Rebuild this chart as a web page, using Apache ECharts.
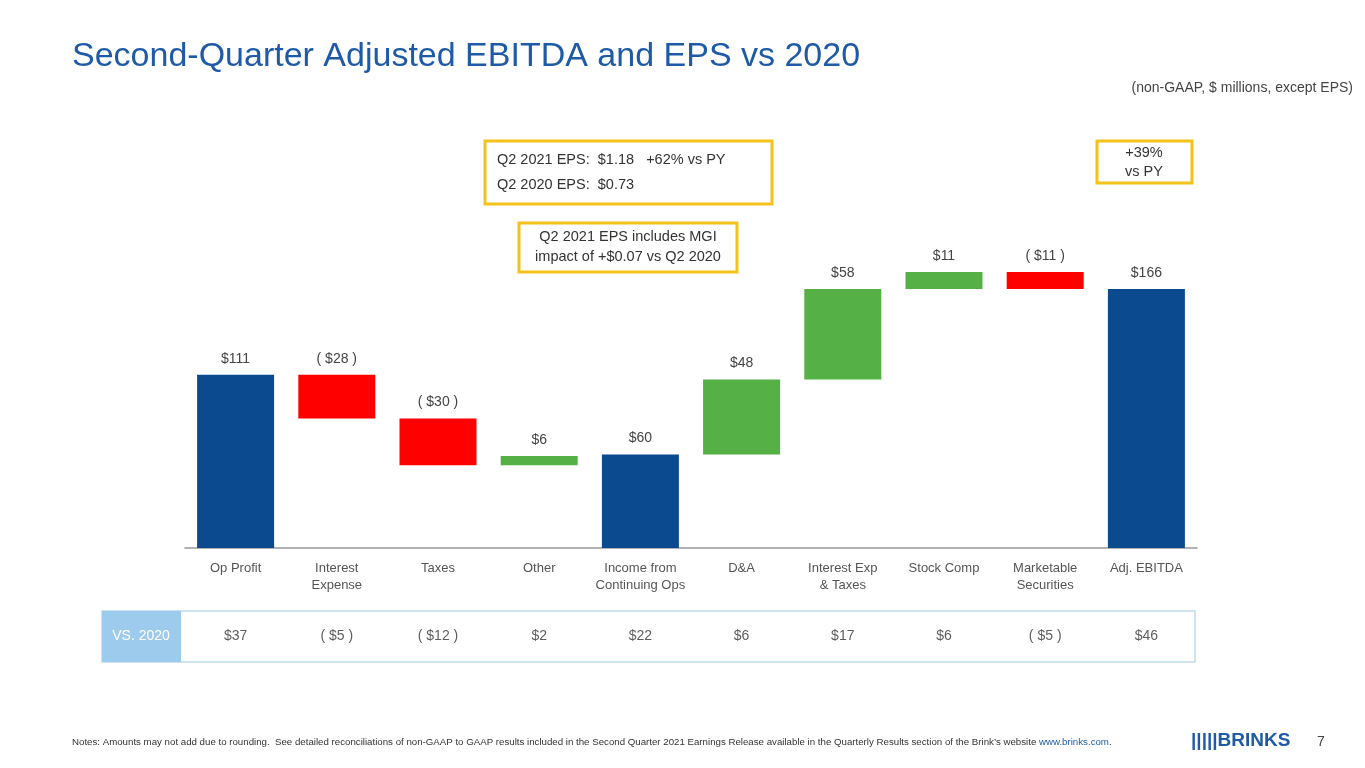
<!DOCTYPE html>
<html><head><meta charset="utf-8">
<script src="https://cdn.jsdelivr.net/npm/echarts@6/dist/echarts.min.js"></script>
<style>html,body{margin:0;padding:0;background:#fff}#c{width:1365px;height:768px}</style>
</head><body><div id="c"></div>
<script>
const categories = ['Op Profit', 'Interest\nExpense', 'Taxes', 'Other', 'Income from\nContinuing Ops', 'D&A', 'Interest Exp\n& Taxes', 'Stock Comp', 'Marketable\nSecurities', 'Adj. EBITDA']
const baseVals = [0, 83, 53, 53, 0, 60, 108, 166, 166, 0]
const barVals = [111, 28, 30, 6, 60, 48, 58, 11, 11, 166]
const barLabels = ['$111', '( $28 )', '( $30 )', '$6', '$60', '$48', '$58', '$11', '( $11 )', '$166']
const barKinds = ['total', 'neg', 'neg', 'pos', 'total', 'pos', 'pos', 'pos', 'neg', 'total']
const vs2020 = ['$37', '( $5 )', '( $12 )', '$2', '$22', '$6', '$17', '$6', '( $5 )', '$46']

const colors = { total: '#0B4A8E', neg: '#FF0000', pos: '#55B045' }
const FONT = 'Liberation Sans, Arial, sans-serif'
const chart = echarts.init(document.getElementById('c'))

chart.setOption({
  animation: false,
  textStyle: { fontFamily: FONT },
  grid: [
    { left: 185, right: 168, top: 236, height: 312 },
    { left: 185, right: 168, top: 611, height: 51 }
  ],
  xAxis: [
    {
      type: 'category', data: categories, gridIndex: 0,
      axisLine: { lineStyle: { color: '#999', width: 1.5 } }, axisTick: { show: false },
      axisLabel: { color: '#555', fontSize: 13, lineHeight: 17, margin: 12, interval: 0 }
    },
    { type: 'category', data: categories, gridIndex: 1, show: false }
  ],
  yAxis: [
    { type: 'value', min: 0, max: 200, show: false, gridIndex: 0 },
    { type: 'value', min: -1, max: 1, show: false, gridIndex: 1 }
  ],
  series: [
    {
      type: 'bar', stack: 'w', data: baseVals, barWidth: 77,
      itemStyle: { color: 'transparent' }, silent: true
    },
    {
      type: 'bar', stack: 'w', barWidth: 77,
      data: barVals.map((v, i) => ({ value: v, itemStyle: { color: colors[barKinds[i]] } })),
      label: {
        show: true, position: 'top', distance: 9, color: '#444', fontSize: 14,
        formatter: p => barLabels[p.dataIndex]
      }
    },
    {
      type: 'scatter', xAxisIndex: 1, yAxisIndex: 1, symbolSize: 0,
      data: vs2020.map(() => 0),
      label: { show: true, position: 'inside', color: '#333', fontSize: 14, formatter: p => vs2020[p.dataIndex] }
    }
  ],
  graphic: [
    { type: 'text', left: 72, top: 40, style: { text: 'Second-Quarter Adjusted EBITDA and EPS vs 2020', fill: '#1F5AA6', fontSize: 34, fontFamily: FONT } },
    { type: 'text', right: 12, top: 81, style: { text: '(non-GAAP, $ millions, except EPS)', fill: '#444', fontSize: 14, fontFamily: FONT } },
    { type: 'rect', shape: { x: 485, y: 141, width: 287, height: 63 }, style: { fill: '#fff', stroke: '#F5C21B', lineWidth: 3 } },
    { type: 'text', left: 497, top: 152, style: { text: 'Q2 2021 EPS:  $1.18   +62% vs PY', fill: '#333', fontSize: 14.5, fontFamily: FONT } },
    { type: 'text', left: 497, top: 177, style: { text: 'Q2 2020 EPS:  $0.73', fill: '#333', fontSize: 14.5, fontFamily: FONT } },
    { type: 'rect', shape: { x: 519, y: 223, width: 218, height: 49 }, style: { fill: '#fff', stroke: '#F5C21B', lineWidth: 3 } },
    { type: 'text', x: 628, y: 247, style: { text: 'Q2 2021 EPS includes MGI\nimpact of +$0.07 vs Q2 2020', fill: '#333', fontSize: 14.5, lineHeight: 20, align: 'center', verticalAlign: 'middle', fontFamily: FONT } },
    { type: 'rect', shape: { x: 1097, y: 141, width: 95, height: 42 }, style: { fill: '#fff', stroke: '#F5C21B', lineWidth: 3 } },
    { type: 'text', x: 1144, y: 162, style: { text: '+39%\nvs PY', fill: '#333', fontSize: 14.5, lineHeight: 19, align: 'center', verticalAlign: 'middle', fontFamily: FONT } },
    { type: 'rect', z: -1, shape: { x: 102, y: 611, width: 1093, height: 51 }, style: { fill: '#fff', stroke: '#BFD9EC', lineWidth: 1.5 } },
    { type: 'rect', z: 0, shape: { x: 102, y: 611, width: 79, height: 51 }, style: { fill: '#9DCBEE' } },
    { type: 'text', x: 141, y: 636, style: { text: 'VS. 2020', fill: '#fff', fontSize: 14, align: 'center', verticalAlign: 'middle', fontFamily: FONT } },
    {
      type: 'text', left: 72, top: 737, style: {
        text: 'Notes: Amounts may not add due to rounding.  See detailed reconciliations of non-GAAP to GAAP results included in the Second Quarter 2021 Earnings Release available in the Quarterly Results section of the Brink\u2019s website {l|www.brinks.com}.',
        fill: '#333', fontSize: 9.7, fontFamily: FONT,
        rich: { l: { fill: '#1F5AA6', fontSize: 9.7, textDecoration: 'underline' } }
      }
    },
    { type: 'text', left: 1191, top: 731, style: { text: '|||||BRINKS', fill: '#1F5AA6', fontSize: 19, fontWeight: 'bold', fontFamily: 'Liberation Sans Narrow, Arial, sans-serif' } },
    { type: 'text', left: 1317, top: 735, style: { text: '7', fill: '#444', fontSize: 14, fontFamily: FONT } }
  ]
})
</script>
</body></html>
